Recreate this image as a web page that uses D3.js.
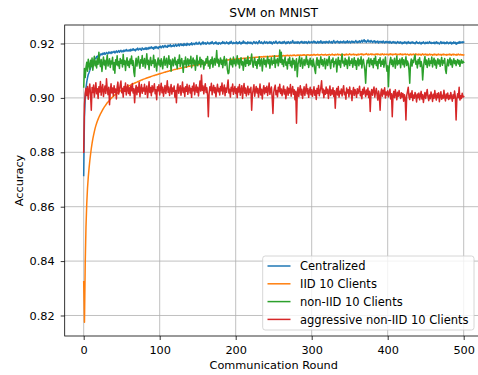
<!DOCTYPE html>
<html>
<head>
<meta charset="utf-8">
<script src="https://cdn.jsdelivr.net/npm/d3@7"></script>
<style>
html,body{margin:0;padding:0;background:#fff;}
svg{display:block;font-family:"DejaVu Sans",sans-serif;}
</style>
</head>
<body>
<svg id="chart" width="478" height="375"></svg>
<script>
const title = "SVM on MNIST";
const xLabel = "Communication Round";
const yLabel = "Accuracy";
const seriesNames = ["Centralized", "IID 10 Clients", "non-IID 10 Clients", "aggressive non-IID 10 Clients"];
const seriesColors = ["#1f77b4", "#ff7f0e", "#2ca02c", "#d62728"];
const xTicks = [0, 100, 200, 300, 400, 500];
const yTicks = [0.82, 0.84, 0.86, 0.88, 0.90, 0.92];

const centralized = [
0.8715,0.8930,0.9000,0.9035,0.9058,0.9074,0.9086,0.9093,0.9101,0.9110,0.9118,0.9126,0.9133,0.9130,0.9141,0.9146,0.9144,0.9152,0.9150,0.9156,
0.9157,0.9153,0.9160,0.9162,0.9158,0.9164,0.9161,0.9166,0.9160,0.9163,0.9167,0.9164,0.9162,0.9169,0.9165,0.9168,0.9163,0.9170,0.9166,0.9168,
0.9171,0.9165,0.9169,0.9173,0.9167,0.9170,0.9174,0.9168,0.9172,0.9175,0.9169,0.9173,0.9170,0.9176,0.9171,0.9174,0.9178,0.9172,0.9175,0.9173,
0.9177,0.9172,0.9179,0.9174,0.9176,0.9181,0.9175,0.9178,0.9173,0.9180,0.9177,0.9183,0.9176,0.9179,0.9182,0.9178,0.9175,0.9184,0.9180,0.9178,
0.9182,0.9179,0.9185,0.9178,0.9183,0.9180,0.9186,0.9181,0.9184,0.9188,0.9182,0.9185,0.9179,0.9187,0.9183,0.9189,0.9184,0.9186,0.9181,0.9188,
0.9186,0.9190,0.9184,0.9188,0.9192,0.9185,0.9189,0.9193,0.9187,0.9190,0.9186,0.9194,0.9189,0.9191,0.9196,0.9188,0.9192,0.9190,0.9195,0.9189,
0.9193,0.9197,0.9190,0.9194,0.9192,0.9198,0.9191,0.9195,0.9199,0.9193,0.9196,0.9192,0.9200,0.9194,0.9197,0.9193,0.9201,0.9195,0.9198,0.9194,
0.9199,0.9196,0.9203,0.9195,0.9198,0.9201,0.9196,0.9200,0.9204,0.9197,0.9201,0.9198,0.9205,0.9199,0.9196,0.9202,0.9199,0.9206,0.9198,0.9201,
0.9203,0.9197,0.9200,0.9205,0.9199,0.9202,0.9198,0.9204,0.9200,0.9207,0.9201,0.9198,0.9203,0.9200,0.9206,0.9199,0.9202,0.9197,0.9204,0.9201,
0.9198,0.9203,0.9200,0.9207,0.9201,0.9204,0.9199,0.9202,0.9206,0.9200,0.9203,0.9198,0.9205,0.9201,0.9208,0.9202,0.9199,0.9204,0.9200,0.9203,
0.9201,0.9206,0.9199,0.9203,0.9200,0.9207,0.9202,0.9198,0.9204,0.9201,0.9209,0.9202,0.9205,0.9200,0.9203,0.9199,0.9206,0.9202,0.9204,0.9200,
0.9205,0.9201,0.9198,0.9204,0.9207,0.9202,0.9200,0.9206,0.9203,0.9199,0.9205,0.9210,0.9203,0.9201,0.9206,0.9202,0.9199,0.9204,0.9208,0.9201,
0.9203,0.9206,0.9200,0.9204,0.9202,0.9207,0.9201,0.9205,0.9198,0.9203,0.9206,0.9201,0.9204,0.9209,0.9202,0.9200,0.9205,0.9203,0.9207,0.9201,
0.9204,0.9200,0.9206,0.9202,0.9208,0.9203,0.9199,0.9205,0.9201,0.9207,0.9204,0.9200,0.9206,0.9202,0.9205,0.9211,0.9203,0.9201,0.9206,0.9202,
0.9205,0.9201,0.9207,0.9203,0.9200,0.9206,0.9204,0.9208,0.9202,0.9205,0.9201,0.9207,0.9203,0.9206,0.9200,0.9204,0.9208,0.9202,0.9205,0.9203,
0.9207,0.9202,0.9205,0.9209,0.9203,0.9206,0.9201,0.9204,0.9208,0.9202,0.9206,0.9203,0.9210,0.9204,0.9201,0.9207,0.9203,0.9206,0.9202,0.9208,
0.9204,0.9206,0.9202,0.9209,0.9205,0.9203,0.9207,0.9201,0.9206,0.9211,0.9204,0.9202,0.9207,0.9205,0.9209,0.9203,0.9206,0.9202,0.9208,0.9204,
0.9206,0.9203,0.9209,0.9205,0.9202,0.9207,0.9204,0.9210,0.9203,0.9206,0.9208,0.9202,0.9205,0.9209,0.9204,0.9207,0.9203,0.9206,0.9211,0.9205,
0.9203,0.9208,0.9205,0.9210,0.9204,0.9207,0.9212,0.9205,0.9209,0.9214,0.9206,0.9210,0.9204,0.9208,0.9213,0.9206,0.9209,0.9205,0.9211,0.9207,
0.9204,0.9209,0.9206,0.9210,0.9203,0.9207,0.9205,0.9209,0.9202,0.9206,0.9208,0.9204,0.9207,0.9203,0.9209,0.9205,0.9202,0.9207,0.9204,0.9208,
0.9203,0.9206,0.9202,0.9208,0.9204,0.9201,0.9206,0.9203,0.9207,0.9202,0.9205,0.9200,0.9204,0.9207,0.9202,0.9205,0.9201,0.9206,0.9203,0.9199,
0.9204,0.9201,0.9206,0.9202,0.9205,0.9199,0.9203,0.9207,0.9201,0.9204,0.9200,0.9205,0.9202,0.9206,0.9201,0.9203,0.9199,0.9204,0.9207,0.9201,
0.9203,0.9200,0.9205,0.9202,0.9198,0.9204,0.9201,0.9206,0.9202,0.9199,0.9204,0.9201,0.9205,0.9200,0.9203,0.9207,0.9201,0.9204,0.9200,0.9203,
0.9201,0.9205,0.9199,0.9203,0.9206,0.9200,0.9204,0.9201,0.9198,0.9203,0.9207,0.9200,0.9204,0.9201,0.9205,0.9199,0.9203,0.9200,0.9206,0.9202,
0.9199,0.9204,0.9201,0.9205,0.9198,0.9203,0.9200,0.9206,0.9201,0.9204,0.9197,0.9203,0.9200,0.9205,0.9201,0.9207,0.9202,0.9204,0.9206,0.9203,
0.9205];

const iid10 = [
0.8324,0.8175,0.8390,0.8525,0.8610,0.8668,0.8708,0.8740,0.8768,0.8792,0.8814,0.8833,0.8849,0.8863,0.8876,0.8888,0.8898,0.8907,0.8915,0.8922,
0.8929,0.8935,0.8941,0.8946,0.8951,0.8957,0.8961,0.8966,0.8970,0.8974,0.8978,0.8982,0.8985,0.8988,0.8992,0.8995,0.8998,0.9001,0.9003,0.9006,
0.9008,0.9011,0.9013,0.9015,0.9017,0.9020,0.9021,0.9024,0.9025,0.9027,0.9029,0.9031,0.9032,0.9034,0.9036,0.9037,0.9039,0.9040,0.9042,0.9043,
0.9045,0.9046,0.9048,0.9049,0.9050,0.9052,0.9053,0.9055,0.9055,0.9057,0.9058,0.9060,0.9060,0.9062,0.9063,0.9064,0.9066,0.9066,0.9068,0.9069,
0.9070,0.9071,0.9072,0.9073,0.9074,0.9075,0.9076,0.9077,0.9078,0.9079,0.9080,0.9081,0.9082,0.9082,0.9084,0.9084,0.9085,0.9086,0.9087,0.9088,
0.9089,0.9089,0.9091,0.9091,0.9092,0.9093,0.9094,0.9094,0.9096,0.9096,0.9097,0.9098,0.9098,0.9100,0.9100,0.9101,0.9102,0.9102,0.9103,0.9104,
0.9104,0.9105,0.9106,0.9106,0.9107,0.9108,0.9108,0.9109,0.9110,0.9110,0.9111,0.9111,0.9112,0.9113,0.9113,0.9114,0.9114,0.9115,0.9116,0.9116,
0.9117,0.9117,0.9118,0.9118,0.9119,0.9119,0.9120,0.9121,0.9121,0.9122,0.9122,0.9123,0.9123,0.9124,0.9124,0.9125,0.9125,0.9126,0.9126,0.9127,
0.9127,0.9128,0.9128,0.9129,0.9129,0.9129,0.9130,0.9130,0.9131,0.9131,0.9132,0.9132,0.9133,0.9133,0.9133,0.9134,0.9134,0.9135,0.9135,0.9135,
0.9136,0.9136,0.9137,0.9137,0.9137,0.9138,0.9138,0.9138,0.9139,0.9139,0.9139,0.9140,0.9140,0.9141,0.9140,0.9141,0.9142,0.9141,0.9142,0.9142,
0.9143,0.9142,0.9143,0.9144,0.9143,0.9144,0.9145,0.9144,0.9145,0.9145,0.9146,0.9145,0.9146,0.9146,0.9147,0.9146,0.9147,0.9147,0.9148,0.9147,
0.9148,0.9148,0.9147,0.9149,0.9148,0.9149,0.9149,0.9150,0.9149,0.9150,0.9150,0.9149,0.9151,0.9150,0.9151,0.9150,0.9151,0.9152,0.9151,0.9152,
0.9151,0.9152,0.9152,0.9151,0.9153,0.9152,0.9153,0.9152,0.9153,0.9154,0.9153,0.9152,0.9154,0.9153,0.9154,0.9153,0.9155,0.9154,0.9153,0.9155,
0.9154,0.9155,0.9154,0.9156,0.9155,0.9154,0.9156,0.9155,0.9157,0.9155,0.9156,0.9155,0.9157,0.9156,0.9155,0.9157,0.9156,0.9158,0.9156,0.9155,
0.9157,0.9156,0.9158,0.9157,0.9156,0.9158,0.9157,0.9156,0.9158,0.9157,0.9159,0.9157,0.9156,0.9158,0.9157,0.9159,0.9158,0.9156,0.9158,0.9157,
0.9159,0.9157,0.9158,0.9160,0.9158,0.9157,0.9159,0.9158,0.9160,0.9158,0.9157,0.9159,0.9158,0.9160,0.9159,0.9157,0.9159,0.9158,0.9160,0.9158,
0.9157,0.9159,0.9158,0.9160,0.9159,0.9157,0.9159,0.9161,0.9158,0.9159,0.9157,0.9160,0.9158,0.9159,0.9161,0.9158,0.9160,0.9159,0.9157,0.9160,
0.9158,0.9160,0.9159,0.9157,0.9160,0.9158,0.9161,0.9159,0.9158,0.9160,0.9162,0.9159,0.9158,0.9160,0.9159,0.9161,0.9158,0.9160,0.9159,0.9157,
0.9160,0.9158,0.9161,0.9159,0.9160,0.9162,0.9159,0.9161,0.9158,0.9160,0.9159,0.9161,0.9163,0.9160,0.9158,0.9161,0.9159,0.9160,0.9162,0.9159,
0.9161,0.9159,0.9160,0.9158,0.9161,0.9160,0.9162,0.9159,0.9161,0.9160,0.9158,0.9161,0.9159,0.9162,0.9160,0.9158,0.9161,0.9160,0.9159,0.9161,
0.9160,0.9158,0.9161,0.9159,0.9162,0.9160,0.9158,0.9161,0.9159,0.9160,0.9162,0.9159,0.9161,0.9158,0.9160,0.9161,0.9159,0.9162,0.9160,0.9158,
0.9161,0.9159,0.9160,0.9162,0.9158,0.9160,0.9161,0.9159,0.9157,0.9160,0.9161,0.9158,0.9160,0.9159,0.9161,0.9158,0.9160,0.9162,0.9159,0.9160,
0.9158,0.9161,0.9159,0.9160,0.9157,0.9160,0.9162,0.9158,0.9160,0.9159,0.9161,0.9158,0.9160,0.9157,0.9159,0.9161,0.9158,0.9160,0.9159,0.9157,
0.9160,0.9158,0.9161,0.9159,0.9157,0.9160,0.9158,0.9161,0.9159,0.9158,0.9160,0.9157,0.9159,0.9161,0.9158,0.9160,0.9159,0.9157,0.9160,0.9158,
0.9159,0.9161,0.9158,0.9160,0.9157,0.9159,0.9161,0.9158,0.9160,0.9159,0.9157,0.9160,0.9158,0.9161,0.9159,0.9158,0.9160,0.9158,0.9159,0.9157,
0.9158];

const nonIid10 = [
0.9040,0.9108,0.9075,0.9112,0.9131,0.9098,0.9142,0.9120,0.9105,0.9138,0.9115,0.9147,0.9102,0.9129,0.9153,0.9118,0.9136,0.9110,0.9145,0.9124,
0.9168,0.9132,0.9115,0.9141,0.9097,0.9127,0.9150,0.9121,0.9138,0.9106,0.9133,0.9158,0.9117,0.9129,0.9144,0.9112,0.9136,0.9125,0.9149,0.9103,
0.9130,0.9091,0.9140,0.9122,0.9155,0.9118,0.9134,0.9108,0.9145,0.9127,0.9139,0.9114,0.9160,0.9123,0.9137,0.9101,0.9132,0.9148,0.9119,0.9135,
0.9112,0.9143,0.9126,0.9154,0.9120,0.9137,0.9095,0.9079,0.9128,0.9146,0.9117,0.9135,0.9152,0.9124,0.9109,0.9140,0.9128,0.9156,0.9116,0.9133,
0.9145,0.9110,0.9131,0.9162,0.9123,0.9138,0.9104,0.9134,0.9149,0.9119,0.9136,0.9127,0.9157,0.9113,0.9140,0.9125,0.9099,0.9133,0.9147,0.9121,
0.9138,0.9115,0.9144,0.9129,0.9107,0.9136,0.9152,0.9120,0.9133,0.9146,0.9112,0.9128,0.9155,0.9124,0.9139,0.9098,0.9131,0.9143,0.9118,0.9136,
0.9149,0.9122,0.9135,0.9108,0.9141,0.9127,0.9158,0.9116,0.9133,0.9145,0.9121,0.9094,0.9137,0.9125,0.9150,0.9113,0.9132,0.9144,0.9119,0.9139,
0.9126,0.9153,0.9111,0.9134,0.9147,0.9123,0.9138,0.9102,0.9130,0.9156,0.9118,0.9135,0.9127,0.9149,0.9114,0.9141,0.9125,0.9137,0.9106,0.9132,
0.9121,0.9144,0.9129,0.9152,0.9117,0.9136,0.9108,0.9140,0.9126,0.9150,0.9113,0.9134,0.9145,0.9120,0.9138,0.9174,0.9128,0.9142,0.9115,0.9133,
0.9147,0.9124,0.9139,0.9111,0.9135,0.9152,0.9119,0.9131,0.9143,0.9105,0.9089,0.9092,0.9128,0.9146,0.9122,0.9137,0.9114,0.9150,0.9126,0.9140,
0.9118,0.9133,0.9155,0.9125,0.9141,0.9110,0.9136,0.9148,0.9121,0.9134,0.9102,0.9130,0.9145,0.9116,0.9139,0.9127,0.9153,0.9119,0.9137,0.9124,
0.9142,0.9161,0.9128,0.9113,0.9136,0.9147,0.9120,0.9133,0.9108,0.9140,0.9126,0.9151,0.9117,0.9135,0.9144,0.9099,0.9131,0.9146,0.9123,0.9138,
0.9114,0.9137,0.9152,0.9126,0.9141,0.9109,0.9133,0.9148,0.9121,0.9136,0.9127,0.9155,0.9112,0.9139,0.9129,0.9145,0.9118,0.9134,0.9176,0.9130,
0.9168,0.9124,0.9140,0.9115,0.9137,0.9150,0.9120,0.9132,0.9106,0.9143,0.9127,0.9149,0.9118,0.9135,0.9111,0.9146,0.9125,0.9138,0.9101,0.9131,
0.9144,0.9078,0.9122,0.9137,0.9152,0.9116,0.9134,0.9147,0.9109,0.9128,0.9141,0.9119,0.9135,0.9153,0.9124,0.9139,0.9112,0.9130,0.9146,0.9121,
0.9137,0.9115,0.9143,0.9126,0.9104,0.9090,0.9132,0.9148,0.9120,0.9138,0.9111,0.9135,0.9151,0.9123,0.9140,0.9117,0.9133,0.9145,0.9107,0.9129,
0.9142,0.9119,0.9136,0.9152,0.9125,0.9108,0.9139,0.9131,0.9147,0.9114,0.9134,0.9126,0.9143,0.9095,0.9130,0.9149,0.9121,0.9137,0.9112,0.9140,
0.9161,0.9128,0.9135,0.9117,0.9146,0.9123,0.9139,0.9108,0.9133,0.9150,0.9119,0.9136,0.9127,0.9144,0.9113,0.9131,0.9148,0.9120,0.9137,0.9105,
0.9132,0.9146,0.9118,0.9139,0.9125,0.9151,0.9110,0.9134,0.9142,0.9121,0.9100,0.9054,0.9116,0.9138,0.9129,0.9147,0.9115,0.9133,0.9144,0.9122,
0.9137,0.9111,0.9145,0.9126,0.9153,0.9119,0.9134,0.9107,0.9140,0.9128,0.9148,0.9116,0.9135,0.9124,0.9142,0.9113,0.9131,0.9150,0.9120,0.9098,
0.9118,0.9041,0.9112,0.9136,0.9149,0.9123,0.9139,0.9115,0.9133,0.9146,0.9109,0.9130,0.9154,0.9121,0.9137,0.9126,0.9143,0.9111,0.9135,0.9148,
0.9122,0.9140,0.9114,0.9133,0.9151,0.9119,0.9136,0.9127,0.9102,0.9054,0.9125,0.9143,0.9117,0.9138,0.9130,0.9149,0.9158,0.9124,0.9135,0.9110,
0.9141,0.9126,0.9148,0.9115,0.9134,0.9120,0.9066,0.9108,0.9137,0.9152,0.9123,0.9139,0.9112,0.9131,0.9145,0.9118,0.9136,0.9127,0.9150,0.9114,
0.9133,0.9146,0.9121,0.9138,0.9109,0.9130,0.9144,0.9125,0.9139,0.9116,0.9134,0.9149,0.9120,0.9137,0.9128,0.9145,0.9103,0.9090,0.9124,0.9141,
0.9118,0.9135,0.9147,0.9122,0.9139,0.9113,0.9131,0.9144,0.9126,0.9137,0.9119,0.9134,0.9141,0.9125,0.9138,0.9116,0.9132,0.9140,0.9127,0.9135,
0.9130];

const aggressiveNonIid10 = [
0.8800,0.8975,0.9018,0.9035,0.9008,0.9042,0.8995,0.9030,0.9051,0.9012,0.8955,0.9038,0.9020,0.9047,0.9003,0.9029,0.9056,0.9015,0.9034,0.8998,
0.9041,0.9022,0.9060,0.9010,0.9033,0.9049,0.9005,0.9027,0.9044,0.9016,0.9070,0.9031,0.9012,0.9039,0.8975,0.9025,0.9052,0.9018,0.9036,0.9007,
0.9045,0.9021,0.9033,0.8996,0.9040,0.9058,0.9014,0.9029,0.9047,0.9062,0.9019,0.9035,0.9003,0.9042,0.9024,0.9055,0.9011,0.9031,0.9048,0.9016,
0.9037,0.9009,0.9044,0.9026,0.9053,0.9018,0.9034,0.8982,0.9028,0.9046,0.9012,0.9039,0.9022,0.9057,0.9004,0.9031,0.9049,0.9017,0.9036,0.9025,
0.9050,0.9013,0.9032,0.9044,0.9001,0.9027,0.9059,0.9020,0.9038,0.9008,0.9045,0.9023,0.9035,0.9052,0.9015,0.9030,0.8993,0.9041,0.9026,0.9048,
0.9011,0.9034,0.9054,0.9019,0.9039,0.9006,0.9028,0.9046,0.9016,0.9033,0.9063,0.9021,0.9040,0.9009,0.9030,0.9049,0.9014,0.9036,0.9024,0.9044,
0.9003,0.9027,0.8982,0.9038,0.9051,0.9017,0.9032,0.9045,0.9010,0.9029,0.9058,0.9020,0.9036,0.9005,0.9041,0.9024,0.9050,0.9013,0.9033,0.9046,
0.9018,0.9035,0.9002,0.9043,0.9026,0.9055,0.9012,0.9030,0.9048,0.9021,0.9039,0.9007,0.9033,0.9062,0.9025,0.9084,0.9028,0.9044,0.9015,0.9036,
0.9052,0.9020,0.9037,0.9009,0.8931,0.9016,0.9041,0.9027,0.9054,0.9012,0.9033,0.9046,0.9019,0.9038,0.9004,0.9030,0.9050,0.9023,0.9035,0.9011,
0.9042,0.9026,0.9055,0.9014,0.9031,0.9047,0.9008,0.9036,0.9021,0.9044,0.9066,0.9018,0.9032,0.9003,0.9039,0.9025,0.9051,0.9013,0.9029,0.9042,
0.9016,0.9034,0.9001,0.9040,0.9022,0.9049,0.9010,0.9028,0.9045,0.8998,0.9031,0.9053,0.9017,0.9036,0.9007,0.9025,0.9043,0.9012,0.9033,0.9020,
0.9039,0.8955,0.9014,0.9030,0.9048,0.9006,0.9027,0.9042,0.9018,0.9035,0.9003,0.9024,0.9051,0.9011,0.9032,0.8996,0.9029,0.9045,0.9015,0.9037,
0.9021,0.9043,0.9009,0.9030,0.9055,0.9013,0.9028,0.9040,0.9000,0.8943,0.9019,0.9036,0.9047,0.9012,0.9027,0.9004,0.9039,0.9023,0.9050,0.9016,
0.9033,0.9008,0.9026,0.9044,0.9014,0.9031,0.8997,0.9022,0.9040,0.9010,0.9035,0.9018,0.9049,0.9006,0.9028,0.9042,0.9013,0.9030,0.8993,0.9024,
0.8907,0.9019,0.9038,0.9005,0.9027,0.9045,0.9011,0.9032,0.8998,0.9021,0.9041,0.9009,0.9029,0.9050,0.9015,0.9034,0.9002,0.9025,0.9039,0.9012,
0.9030,0.9006,0.9022,0.9041,0.9010,0.9027,0.8994,0.9035,0.9016,0.9046,0.9008,0.9024,0.9038,0.9063,0.9019,0.9033,0.9001,0.9028,0.9013,0.9040,
0.9017,0.9032,0.8998,0.9023,0.9044,0.9009,0.9029,0.9014,0.9037,0.9005,0.9026,0.8962,0.9020,0.9035,0.9011,0.9042,0.9003,0.9024,0.9016,0.9033,
0.9007,0.9028,0.9045,0.9012,0.9021,0.8995,0.9036,0.9018,0.9030,0.9004,0.9040,0.9015,0.9026,0.8990,0.9022,0.9038,0.9009,0.9031,0.9019,0.9002,
0.9034,0.9016,0.9027,0.9043,0.9008,0.9023,0.8997,0.9032,0.9014,0.9039,0.9020,0.9005,0.9029,0.9012,0.9036,0.9001,0.9024,0.8950,0.9017,0.9031,
0.9010,0.9027,0.9040,0.9003,0.9021,0.9035,0.9012,0.8992,0.9025,0.9008,0.8955,0.9019,0.9033,0.9006,0.9028,0.9014,0.9037,0.9000,0.9022,0.9011,
0.9026,0.9004,0.9018,0.9032,0.8996,0.9015,0.8931,0.9009,0.9024,0.9001,0.9030,0.9013,0.8993,0.9021,0.9006,0.9027,0.9011,0.8998,0.9019,0.9003,
0.9016,0.8988,0.9012,0.9000,0.8919,0.9008,0.9023,0.9039,0.9005,0.8994,0.9017,0.9002,0.9026,0.8990,0.9011,0.8999,0.9020,0.9007,0.8985,0.9014,
0.9001,0.9018,0.8993,0.9009,0.9024,0.8996,0.9012,0.8983,0.9005,0.9020,0.8998,0.9015,0.9031,0.9003,0.8990,0.9011,0.8997,0.9022,0.9008,0.8987,
0.9013,0.8999,0.9027,0.9004,0.8992,0.9016,0.9001,0.9019,0.8986,0.9007,0.9023,0.8995,0.9010,0.8999,0.9028,0.9003,0.8989,0.9014,0.9000,0.9018,
0.8994,0.9009,0.8997,0.9020,0.9004,0.8988,0.9012,0.8999,0.9025,0.9005,0.8919,0.8996,0.9015,0.9001,0.9039,0.8992,0.9008,0.8998,0.9017,0.9003,
0.9005];

const seriesValues = [centralized, iid10, nonIid10, aggressiveNonIid10];

const W = 478, H = 375;
const plot = {left: 64.7, right: 482.7, top: 25, bottom: 336};
const font = '"DejaVu Sans", sans-serif';
const tickFont = "11.3px";
const labelFont = "11.3px";
const legendFont = "11.5px";

const svg = d3.select("#chart");
svg.append("rect").attr("width", W).attr("height", H).attr("fill", "#fff");

const x = d3.scaleLinear().domain([-25, 525]).range([plot.left, plot.right]);
const y = d3.scaleLinear().domain([0.81246, 0.9268]).range([plot.bottom, plot.top]);

// grid
const grid = svg.append("g");
grid.selectAll("line.gx").data(xTicks).join("line")
  .attr("x1", d => x(d)).attr("x2", d => x(d))
  .attr("y1", plot.top).attr("y2", plot.bottom)
  .attr("stroke", "#b0b0b0").attr("stroke-width", 0.8);
grid.selectAll("line.gy").data(yTicks).join("line")
  .attr("x1", plot.left).attr("x2", plot.right)
  .attr("y1", d => y(d)).attr("y2", d => y(d))
  .attr("stroke", "#b0b0b0").attr("stroke-width", 0.8);

// lines
const line = d3.line().x((d, i) => x(i)).y(d => y(d));
seriesValues.forEach((vals, k) => {
  svg.append("path").datum(vals)
    .attr("d", line)
    .attr("fill", "none")
    .attr("stroke", seriesColors[k])
    .attr("stroke-width", 1.5)
    .attr("stroke-linejoin", "round")
    .attr("stroke-linecap", "square");
});

// frame
svg.append("rect")
  .attr("x", plot.left).attr("y", plot.top)
  .attr("width", plot.right - plot.left).attr("height", plot.bottom - plot.top)
  .attr("fill", "none").attr("stroke", "#000").attr("stroke-width", 0.8);

// axes
const xAxis = d3.axisBottom(x).tickValues(xTicks).tickSize(4).tickPadding(5.5).tickFormat(d3.format("d"));
const yAxis = d3.axisLeft(y).tickValues(yTicks).tickSize(4).tickPadding(6).tickFormat(d3.format(".2f"));
const gx = svg.append("g").attr("transform", `translate(0,${plot.bottom})`).call(xAxis);
const gy = svg.append("g").attr("transform", `translate(${plot.left},0)`).call(yAxis);
[gx, gy].forEach(g => {
  g.select(".domain").remove();
  g.selectAll(".tick line").attr("stroke", "#000").attr("stroke-width", 0.8);
  g.selectAll(".tick text").attr("fill", "#000").style("font-family", font).style("font-size", tickFont);
});

// title and labels
svg.append("text").attr("x", (plot.left + plot.right) / 2).attr("y", 17.4)
  .attr("text-anchor", "middle").style("font-family", font).style("font-size", "12.3px")
  .attr("fill", "#000").text(title);
svg.append("text").attr("x", (plot.left + plot.right) / 2).attr("y", 369)
  .attr("text-anchor", "middle").style("font-family", font).style("font-size", labelFont)
  .attr("fill", "#000").text(xLabel);
svg.append("text").attr("transform", `translate(23,${(plot.top + plot.bottom) / 2}) rotate(-90)`)
  .attr("text-anchor", "middle").style("font-family", font).style("font-size", labelFont)
  .attr("fill", "#000").text(yLabel);

// legend
const lg = svg.append("g");
lg.append("rect").attr("x", 262.7).attr("y", 256).attr("width", 211.3).attr("height", 74)
  .attr("rx", 2.5).attr("ry", 2.5)
  .attr("fill", "#fff").attr("fill-opacity", 0.8)
  .attr("stroke", "#cccccc").attr("stroke-width", 0.8);
seriesNames.forEach((name, k) => {
  const cy = 266 + k * 17.8;
  lg.append("line").attr("x1", 267.5).attr("x2", 290.5).attr("y1", cy).attr("y2", cy)
    .attr("stroke", seriesColors[k]).attr("stroke-width", 1.5);
  lg.append("text").attr("x", 300).attr("y", cy + 4.1)
    .style("font-family", font).style("font-size", legendFont).attr("fill", "#000").text(name);
});
</script>
</body>
</html>
